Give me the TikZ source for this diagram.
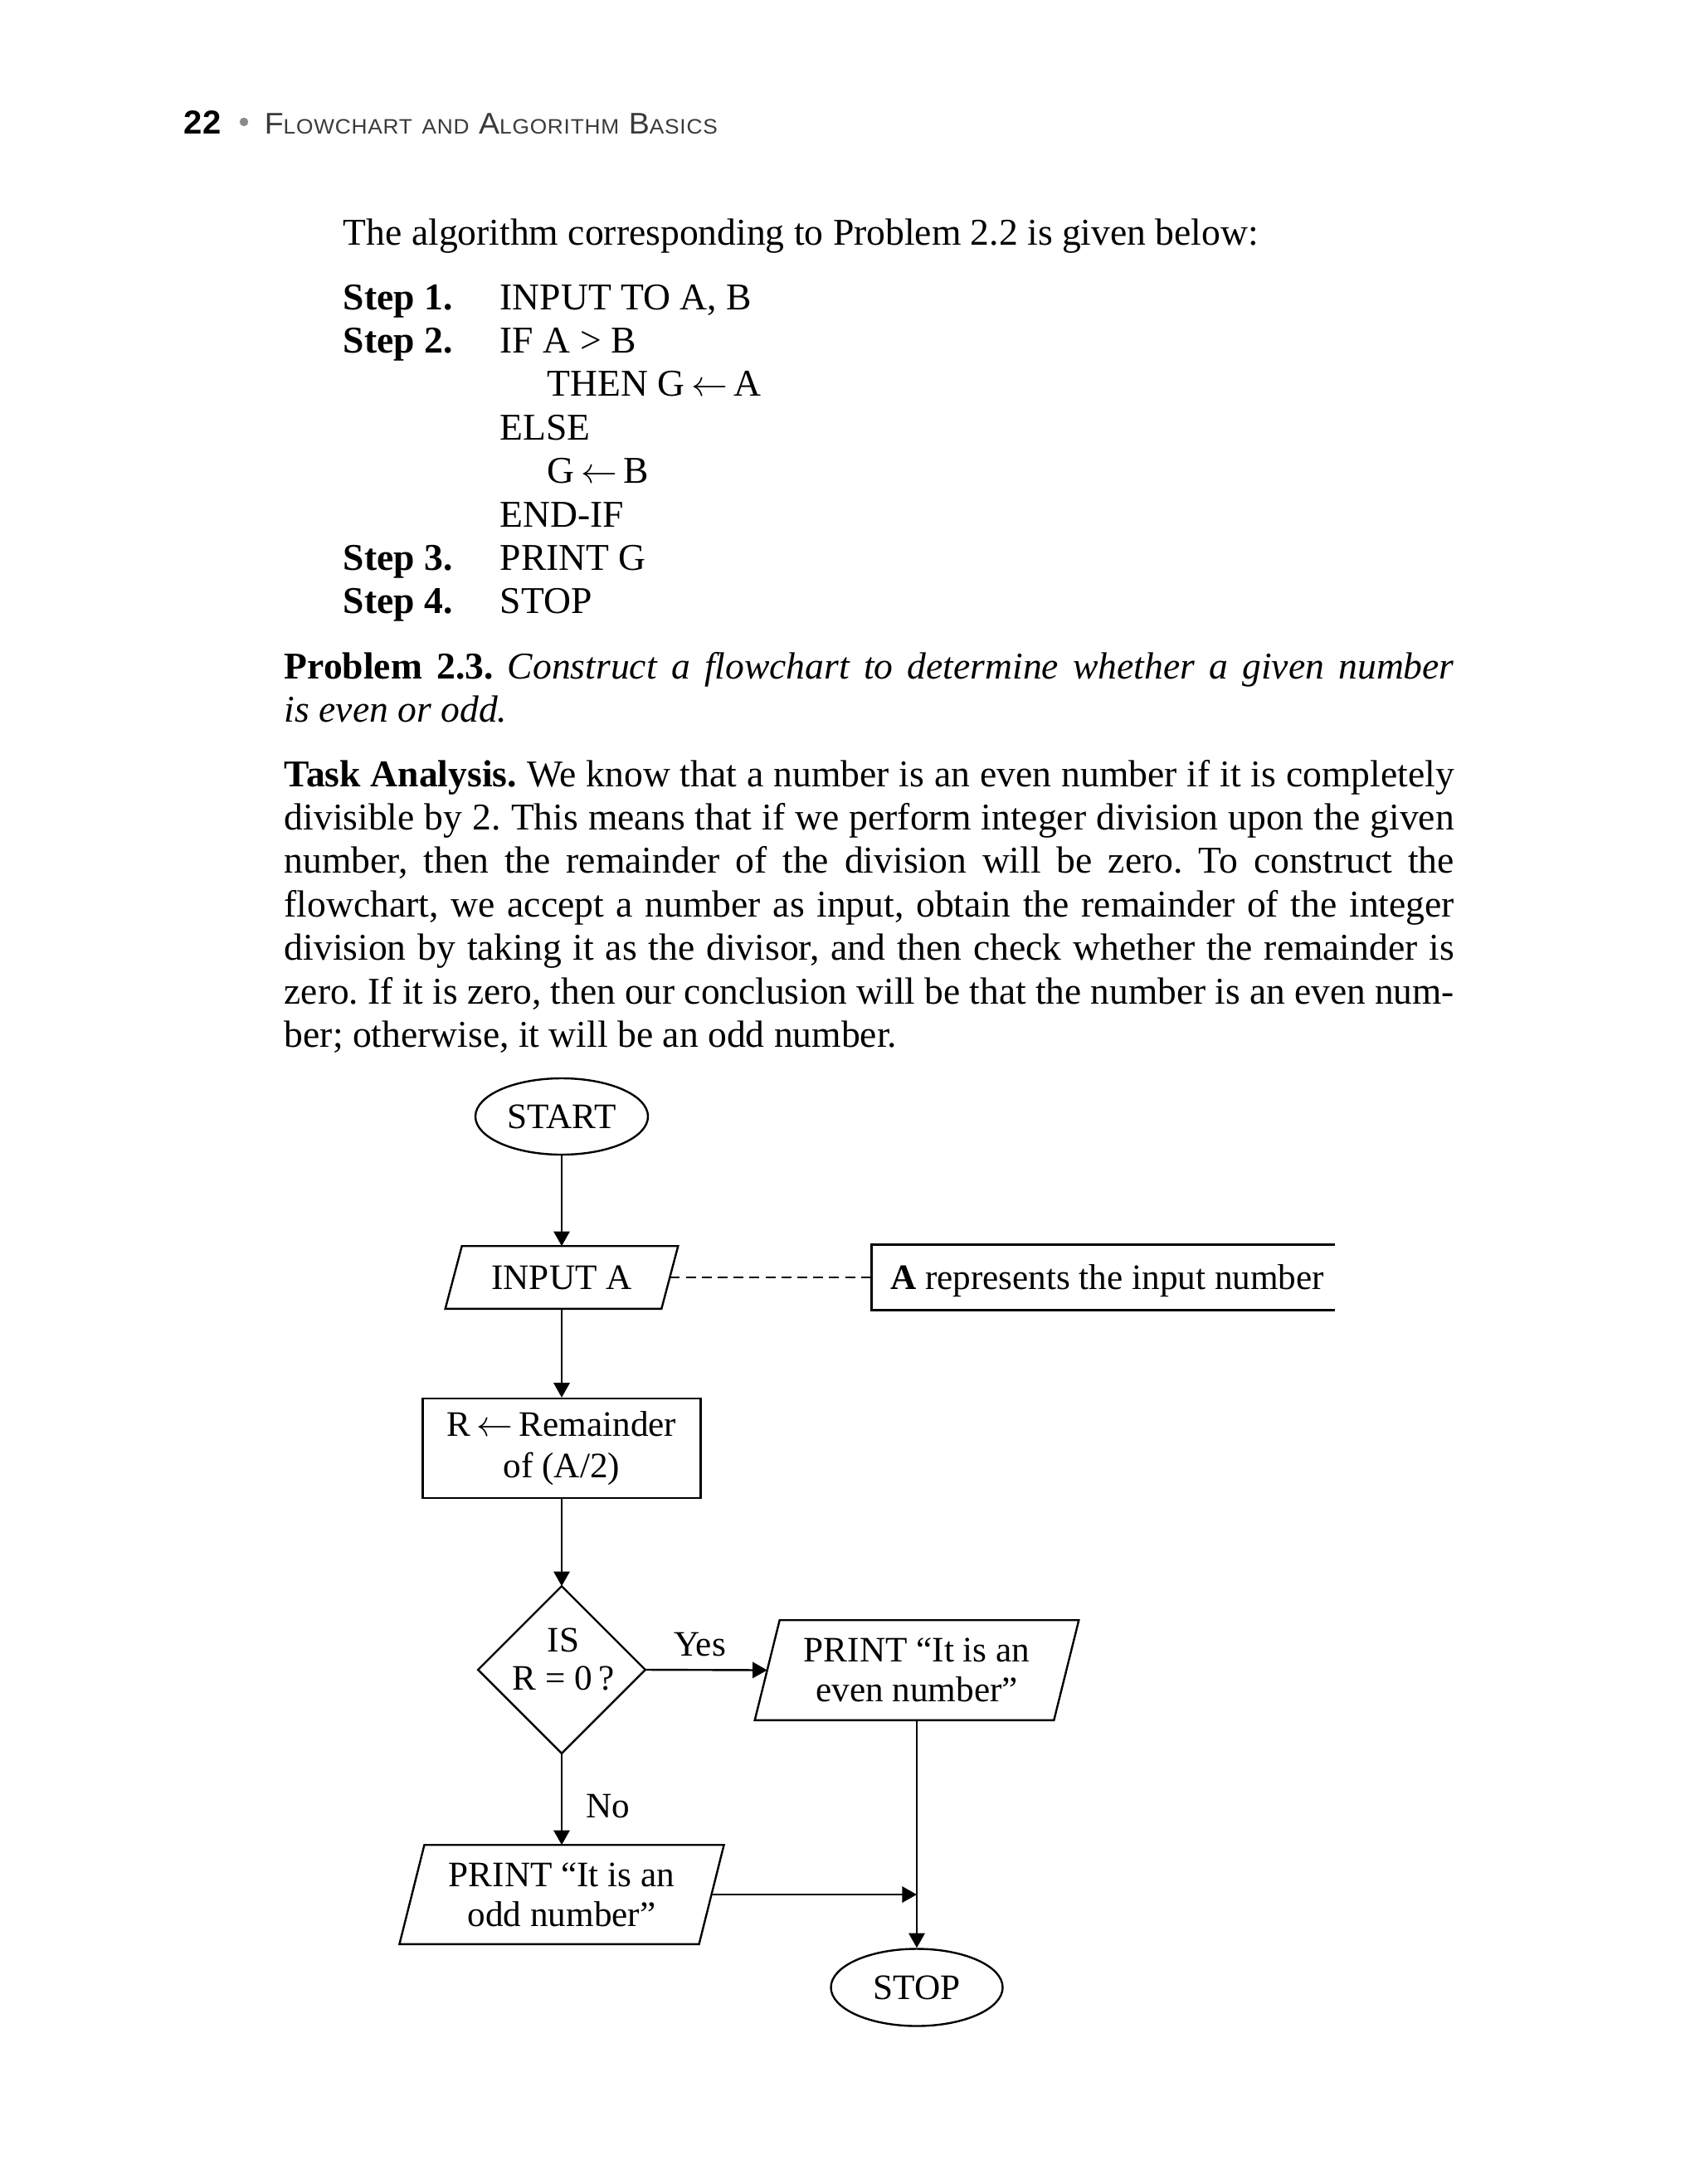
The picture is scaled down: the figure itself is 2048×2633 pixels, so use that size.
\documentclass[tikz,border=0pt]{standalone}
\usepackage{fontspec}
\usepackage{graphicx}
\setmainfont{Liberation Serif}
\newfontfamily\hdrfont[LetterSpace=3]{Liberation Sans}
\newfontfamily\hdrbold{Liberation Sans}
\usetikzlibrary{arrows.meta,shapes.geometric}
\definecolor{hdrtext}{HTML}{3A3A3A}
\definecolor{hdrdot}{HTML}{8A8A8A}
\newsavebox\jbox
\newcommand\jline[2]{\sbox\jbox{#2}\ifdim\wd\jbox>#1\relax\resizebox{#1}{\height}{\usebox\jbox}\else\makebox[#1][s]{#2}\fi}
\newcommand\bodyfont{\fontsize{11.4}{13.1}\selectfont}
\newcommand\flowfont{\fontsize{10.8}{12.5}\selectfont}
\newcommand\decfont{\fontsize{10.8}{11.5}\selectfont}
\newcommand\printfont{\fontsize{10.8}{12}\selectfont}
\newcommand\HBg{\fontsize{9}{10}\selectfont}
\newcommand\HSm{\fontsize{6.3}{7}\selectfont}
\newcommand\drawpara[2]{\draw[ln] ([xshift=#2]#1.north west) -- ([xshift=#2]#1.north east) -- ([xshift=-#2]#1.south east) -- ([xshift=-#2]#1.south west) -- cycle;}
\tikzset{
  ln/.style={line width=0.6pt},
  arr/.style={ln,-{Triangle[length=4.4pt,width=4.8pt]}},
  bt/.style={anchor=base west,inner sep=0pt,font=\bodyfont},
  ftext/.style={inner sep=0pt,font=\flowfont},
  oneline/.style={text height=7.2pt,text depth=0pt},
}
\frenchspacing
\begin{document}
\frenchspacing
\begin{tikzpicture}[x=0.25pt,y=-0.25pt]
\fill[white] (0,0) rectangle (2048,2633);
\useasboundingbox (0,0) rectangle (2048,2633);
% header
\node[anchor=base west,inner sep=0pt,font=\hdrbold\bfseries\fontsize{10}{12}\selectfont] (pgnum) at (221,162) {22};
\fill[hdrdot] (294,147) circle (1.3pt);
\node[anchor=base west,inner sep=0pt,text=hdrtext] (hdr) at (318,162)
  {\resizebox{136.5pt}{\height}{\hdrfont{\HBg F}{\HSm LOWCHART}{\HBg\ }{\HSm AND}{\HBg\ A}{\HSm LGORITHM}{\HBg\ B}{\HSm ASICS}}};
% algorithm text
\node[bt] (intro) at (413,296) {The algorithm corresponding to Problem 2.2 is given below:};
\node[bt] (s1) at (413,373) {\textbf{Step 1.}};
\node[bt] (s1t) at (602,373) {INPUT TO A, B};
\node[bt] (s2) at (413,425.4) {\textbf{Step 2.}};
\node[bt] (s2t) at (602,425.4) {IF A > B};
\node[bt] (s2a) at (659,477.8) {THEN G\,$\leftarrow$\,A};
\node[bt] (s2b) at (602,530.2) {ELSE};
\node[bt] (s2c) at (659,582.6) {G\,$\leftarrow$\,B};
\node[bt] (s2d) at (602,635) {END-IF};
\node[bt] (s3) at (413,687.4) {\textbf{Step 3.}};
\node[bt] (s3t) at (602,687.4) {PRINT G};
\node[bt] (s4) at (413,739.8) {\textbf{Step 4.}};
\node[bt] (s4t) at (602,739.8) {STOP};
% problem
\node[bt] (p1) at (342,818) {\jline{352.5pt}{\textbf{Problem 2.3.} \textit{Construct a flowchart to determine whether a given number}}};
\node[bt] (p2) at (342,870.4) {\textit{is even or odd.}};
% task analysis
\node[bt] (t1) at (342,948) {\jline{352.5pt}{\textbf{Task Analysis.} We know that a number is an even number if it is completely}};
\node[bt] (t2) at (342,1000.4) {\jline{352.5pt}{divisible by 2. This means that if we perform integer division upon the given}};
\node[bt] (t3) at (342,1052.8) {\jline{352.5pt}{number, then the remainder of the division will be zero. To construct the}};
\node[bt] (t4) at (342,1105.2) {\jline{352.5pt}{flowchart, we accept a number as input, obtain the remainder of the integer}};
\node[bt] (t5) at (342,1157.6) {\jline{352.5pt}{division by taking it as the divisor, and then check whether the remainder is}};
\node[bt] (t6) at (342,1210) {\jline{352.5pt}{zero. If it is zero, then our conclusion will be that the number is an even num-}};
\node[bt] (t7) at (342,1262.4) {ber; otherwise, it will be an odd number.};
% flowchart
\node[ellipse,draw,ln,minimum width=52pt,minimum height=23pt,ftext,oneline] (start) at (677,1346) {START};
\node[ftext,oneline,minimum width=64.75pt,minimum height=18.5pt] (inp) at (677,1540) {INPUT A};
\drawpara{inp}{2.5pt}
\node[ftext,oneline,inner xsep=5.5pt,minimum height=19.5pt] (note) at (1329.5,1540) {\makebox[128.25pt][l]{\textbf{A} represents the input number}};
\draw[line width=0.75pt] (note.north east) -- (note.north west) -- (note.south west) -- (note.south east);
\draw[ln,dash pattern=on 3pt off 1.8pt] (inp.east) -- (note.west);
\node[ftext,draw,ln,minimum width=83.75pt,minimum height=30pt,align=center] (proc) at (677,1746) {R\,$\leftarrow$\,Remainder\\of (A/2)};
\node[inner sep=0pt,minimum width=50pt,minimum height=50pt] (dec) at (677,2013) {};
\draw[ln] (dec.north) -- (dec.east) -- (dec.south) -- (dec.west) -- cycle;
\node[ftext,font=\decfont,align=center] (dect) at (679,2000) {IS\\R = 0\,?};
\node[ftext,font=\printfont,minimum width=89.75pt,minimum height=29.75pt,align=center] (even) at (1105,2013.5) {PRINT “It is an\\even number”};
\drawpara{even}{3.75pt}
\node[ftext,font=\printfont,minimum width=89.875pt,minimum height=29.5pt,align=center] (odd) at (677,2284) {PRINT “It is an\\odd number”};
\drawpara{odd}{3.75pt}
\node[ellipse,draw,ln,minimum width=51.75pt,minimum height=23.25pt,ftext,oneline] (stop) at (1105,2396) {STOP};
% connectors
\draw[arr] (start.south) -- (inp.north);
\draw[arr] (inp.south) -- (proc.north);
\draw[arr] (proc.south) -- (dec.north);
\draw[arr] (dec.east) -- node[ftext,above=3.75pt,pos=0.447] (yes) {Yes} (even.west);
\draw[arr] (dec.south) -- node[ftext,anchor=west,xshift=7pt,pos=0.58] (no) {No} (odd.north);
\draw[arr] (even.south) -- (stop.north);
\coordinate (join) at (odd.east -| even.south);
\draw[arr] (odd.east) -- (join);
\end{tikzpicture}
\end{document}
